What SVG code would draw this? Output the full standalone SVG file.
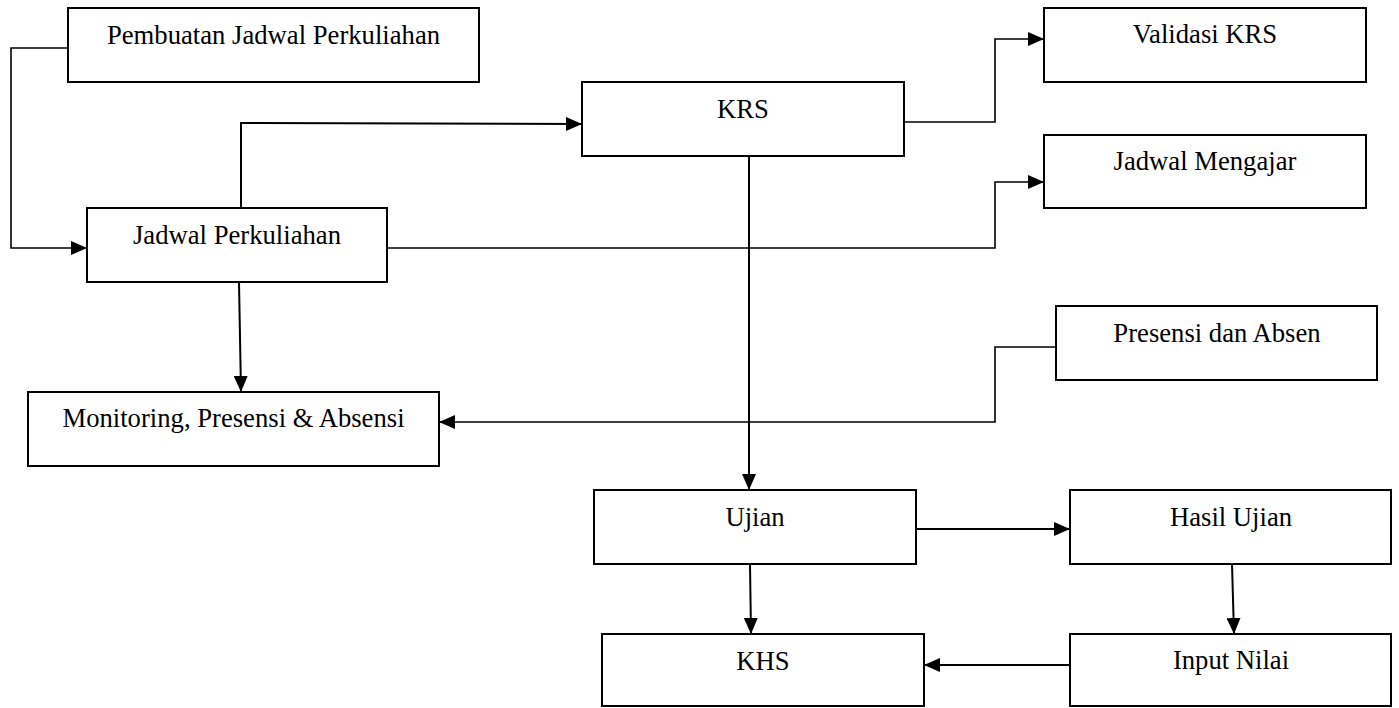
<svg xmlns="http://www.w3.org/2000/svg" width="1399" height="708" viewBox="0 0 1399 708">
<defs>
<style>
.box{fill:#fff;stroke:#000;stroke-width:2}
.lbl{font-family:"Liberation Serif","Times New Roman",serif;font-size:26.67px;fill:#000;text-anchor:middle}
.con{fill:none;stroke:#000;stroke-width:2}
.thin{fill:none;stroke:#000;stroke-width:1.6}
</style>
<marker id="ah" markerUnits="userSpaceOnUse" markerWidth="16" markerHeight="14" refX="16" refY="7" orient="auto">
<path d="M0,0 L16,7 L0,14 z" fill="#000"/>
</marker>
</defs>
<rect width="1399" height="708" fill="#fff"/>
<g id="connectors">
<path class="thin" d="M68,48 H11 V248 H87" marker-end="url(#ah)"/>
<path class="con" d="M241,208 V123 L582,124" marker-end="url(#ah)"/>
<path class="thin" d="M904,122 H995 V39 H1044" marker-end="url(#ah)"/>
<path class="thin" d="M387,248 H995 V182 H1044" marker-end="url(#ah)"/>
<path class="con" d="M239,282 L241,392" marker-end="url(#ah)"/>
<path class="thin" d="M1056,347 H995 V422 H439" marker-end="url(#ah)"/>
<path class="con" d="M749,156 V490" marker-end="url(#ah)"/>
<path class="con" d="M916,529 H1070" marker-end="url(#ah)"/>
<path class="con" d="M750,564 L751,634" marker-end="url(#ah)"/>
<path class="con" d="M1232,564 L1234,634" marker-end="url(#ah)"/>
<path class="con" d="M1070,665 H924" marker-end="url(#ah)"/>
</g>
<g id="pembuatan"><rect class="box" x="68" y="8" width="411" height="74"/><text class="lbl" x="273.5" y="44">Pembuatan Jadwal Perkuliahan</text></g>
<g id="jadwal-perkuliahan"><rect class="box" x="87" y="208" width="300" height="74"/><text class="lbl" x="237" y="244">Jadwal Perkuliahan</text></g>
<g id="krs"><rect class="box" x="582" y="82" width="322" height="74"/><text class="lbl" x="743" y="118">KRS</text></g>
<g id="validasi-krs"><rect class="box" x="1044" y="8" width="322" height="74"/><text class="lbl" x="1205" y="43">Validasi KRS</text></g>
<g id="jadwal-mengajar"><rect class="box" x="1044" y="135" width="322" height="73"/><text class="lbl" x="1205" y="170">Jadwal Mengajar</text></g>
<g id="presensi-absen"><rect class="box" x="1056" y="306" width="321" height="74"/><text class="lbl" x="1217" y="342">Presensi dan Absen</text></g>
<g id="monitoring"><rect class="box" x="28" y="392" width="411" height="74"/><text class="lbl" x="233.5" y="427">Monitoring, Presensi &amp; Absensi</text></g>
<g id="ujian"><rect class="box" x="594" y="490" width="322" height="74"/><text class="lbl" x="755" y="526">Ujian</text></g>
<g id="hasil-ujian"><rect class="box" x="1070" y="490" width="321" height="74"/><text class="lbl" x="1231" y="526">Hasil Ujian</text></g>
<g id="khs"><rect class="box" x="602" y="634" width="322" height="72"/><text class="lbl" x="763" y="670">KHS</text></g>
<g id="input-nilai"><rect class="box" x="1070" y="634" width="321" height="72"/><text class="lbl" x="1231" y="669">Input Nilai</text></g>
</svg>
